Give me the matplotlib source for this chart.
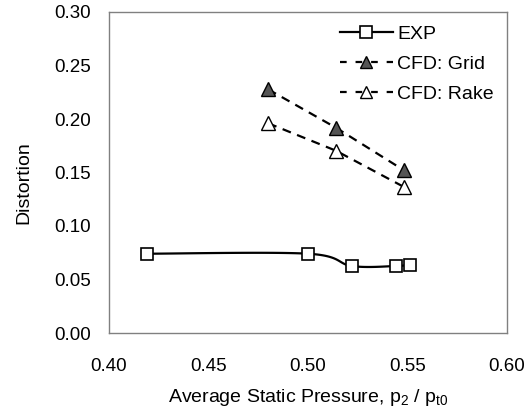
import numpy as np
import matplotlib
matplotlib.use('Agg')
import matplotlib.pyplot as plt

plt.rcParams['font.family'] = ['Liberation Sans', 'DejaVu Sans']
plt.rcParams['mathtext.default'] = 'regular'

exp_x = [0.419, 0.500, 0.522, 0.544, 0.5515]
exp_y = [0.0741, 0.0741, 0.0626, 0.0626, 0.064]
grid_x = [0.480, 0.514, 0.548]
grid_y = [0.2277, 0.1919, 0.1523]
rake_x = [0.480, 0.514, 0.548]
rake_y = [0.196, 0.1704, 0.1367]

xticks = [0.40, 0.45, 0.50, 0.55, 0.60]
yticks = [0.00, 0.05, 0.10, 0.15, 0.20, 0.25, 0.30]


def smooth(xs, ys, n=30):
    # catmull-rom style smoothing like excel's smoothed line
    xs = np.asarray(xs, float)
    ys = np.asarray(ys, float)
    px = np.concatenate([[xs[0]], xs, [xs[-1]]])
    py = np.concatenate([[ys[0]], ys, [ys[-1]]])
    ox, oy = [], []
    for i in range(1, len(px) - 2):
        t = np.linspace(0, 1, n)
        p0x, p1x, p2x, p3x = px[i-1:i+3]
        p0y, p1y, p2y, p3y = py[i-1:i+3]
        cx1 = p1x + (p2x - p0x) / 6
        cy1 = p1y + (p2y - p0y) / 6
        cx2 = p2x - (p3x - p1x) / 6
        cy2 = p2y - (p3y - p1y) / 6
        bx = (1-t)**3*p1x + 3*(1-t)**2*t*cx1 + 3*(1-t)*t**2*cx2 + t**3*p2x
        by = (1-t)**3*p1y + 3*(1-t)**2*t*cy1 + 3*(1-t)*t**2*cy2 + t**3*p2y
        ox.extend(bx)
        oy.extend(by)
    return ox, oy


fs = 13.5

fig = plt.figure(figsize=(5.27, 4.13), dpi=100)
ax = fig.add_axes([109/527, 1-333/413, 398/527, 321/413])

sx, sy = smooth(exp_x, exp_y)
ax.plot(sx, sy, color='black', lw=1.6, zorder=2)
ax.plot(exp_x, exp_y, ls='none', marker='s', ms=9, mfc='white', mec='black', mew=1.2, zorder=3)
ax.plot(grid_x, grid_y, ls='--', color='black', lw=1.6, dashes=(4, 3),
        marker='^', ms=10, mfc='#555555', mec='black', mew=1.0)
ax.plot(rake_x, rake_y, ls='--', color='black', lw=1.6, dashes=(4, 3),
        marker='^', ms=10, mfc='white', mec='black', mew=1.0)

# legend handles
h1, = ax.plot([], [], color='black', lw=1.6, marker='s', ms=9, mfc='white', mec='black', mew=1.2)
h2, = ax.plot([], [], ls='--', color='black', lw=1.6, dashes=(3, 4), marker='^', ms=9, mfc='#555555', mec='black')
h3, = ax.plot([], [], ls='--', color='black', lw=1.6, dashes=(3, 4), marker='^', ms=9, mfc='white', mec='black')
leg = ax.legend([h1, h2, h3], ['EXP', 'CFD: Grid', 'CFD: Rake'], loc='upper right',
                frameon=False, fontsize=14, handlelength=2.7, handletextpad=0.25,
                labelspacing=0.65, borderaxespad=0.0, borderpad=0.0,
                bbox_to_anchor=(494/527, 1-25/413), bbox_transform=fig.transFigure)

ax.set_xlim(0.40, 0.60)
ax.set_ylim(0.0, 0.30)
ax.set_xticks(xticks)
ax.set_yticks(yticks)
ax.set_xticklabels(['%.2f' % v for v in xticks])
ax.set_yticklabels(['%.2f' % v for v in yticks])
ax.tick_params(length=0, labelsize=fs)
ax.tick_params(axis='x', pad=18)
ax.tick_params(axis='y', pad=13)
for s in ax.spines.values():
    s.set_color('#808080')
    s.set_linewidth(1.0)

ax.set_xlabel('Average Static Pressure, p$_2$ / p$_{t0}$', fontsize=14, labelpad=9)
ax.set_ylabel('Distortion', fontsize=14)
ax.yaxis.set_label_coords(-0.193, 0.47)

fig.savefig('out.png', dpi=100)
